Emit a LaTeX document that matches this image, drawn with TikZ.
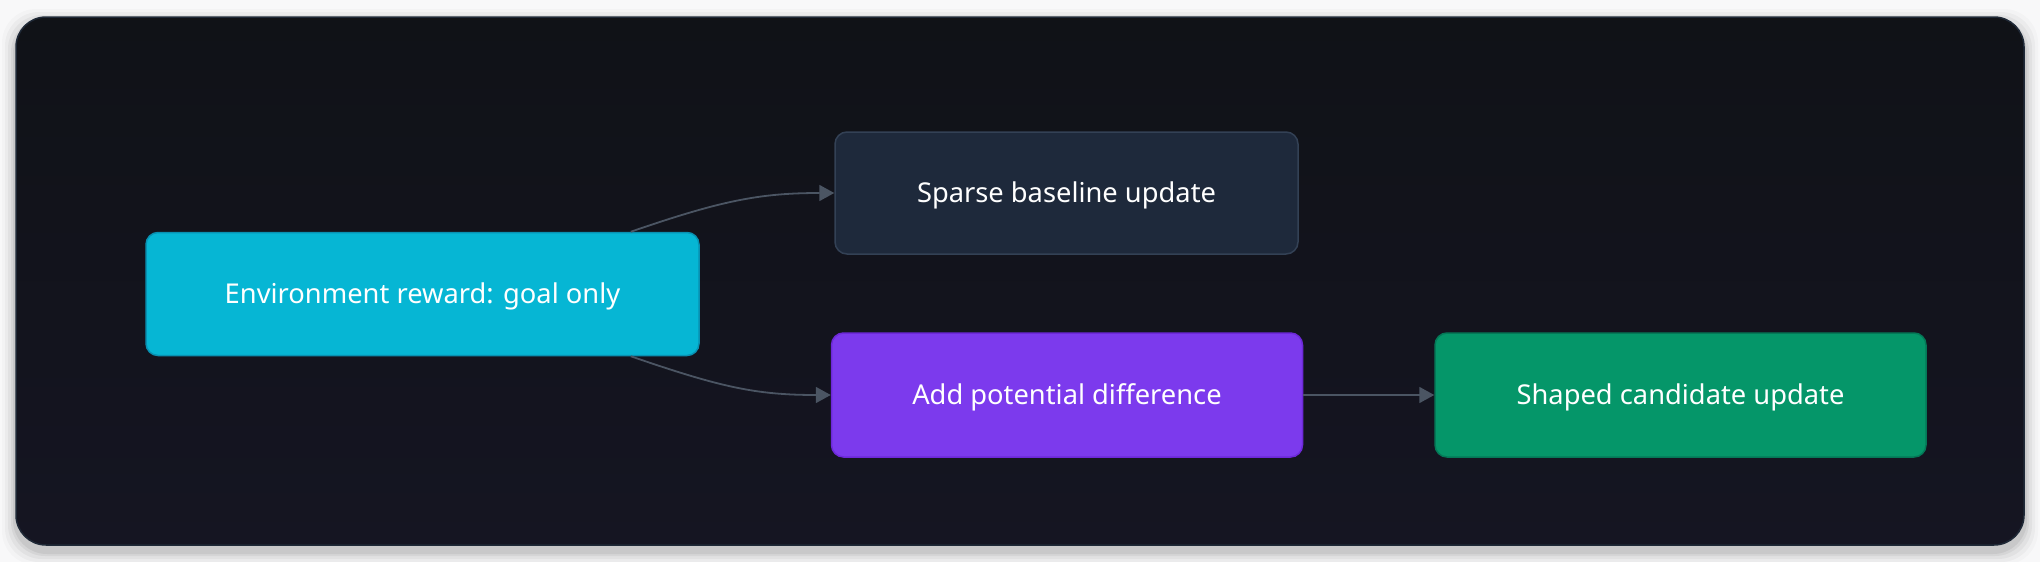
\documentclass[tikz,border=0pt]{standalone}
\usepackage{fontspec}
\setmainfont{Noto Sans}
\usetikzlibrary{arrows.meta,calc}
\definecolor{pagebg}{HTML}{F8F8F9}
\definecolor{paneltop}{HTML}{101217}
\definecolor{panelbot}{HTML}{151522}
\definecolor{panelborder}{HTML}{1F2937}
\definecolor{cyanfill}{HTML}{06B6D4}
\definecolor{cyanborder}{HTML}{0891B2}
\definecolor{slatefill}{HTML}{1E293B}
\definecolor{slateborder}{HTML}{334155}
\definecolor{purplefill}{HTML}{7C3AED}
\definecolor{purpleborder}{HTML}{6D28D9}
\definecolor{greenfill}{HTML}{059669}
\definecolor{greenborder}{HTML}{047857}
\definecolor{edgecol}{HTML}{4B5563}
\tikzset{
  box/.style={rectangle, rounded corners=12pt, line width=1.5pt, text=white,
    font=\fontsize{27.3}{32}\selectfont, inner sep=0pt,
    text height=19.6pt, text depth=0pt},
  edge/.style={draw=edgecol, line width=1.8pt,
    -{Triangle[length=15pt,width=16pt]}},
}
\begin{document}
\begin{tikzpicture}[x=1pt,y=-1pt]
\useasboundingbox (0,0) rectangle (2040,562);
\fill[pagebg] (0,0) rectangle (2040,562);
% panel shadow
\foreach \o/\a in {14/0.02,11/0.03,8/0.04,5/0.05,3/0.06}{
  \fill[black,opacity=\a,rounded corners=34pt] (16-\o,17-\o+6) rectangle (2024+\o,545+\o+6);
}
\shade[top color=paneltop,bottom color=panelbot,rounded corners=30pt]
  (16,17) rectangle (2024,545);
\draw[panelborder,line width=1.5pt,rounded corners=30pt]
  (16,17) rectangle (2024,545);

\node[box, fill=cyanfill, draw=cyanborder, minimum width=553pt, minimum height=123pt]
  (env) at (422.5,294) {Environment reward: goal only};
\node[box, fill=slatefill, draw=slateborder, minimum width=463pt, minimum height=122pt]
  (sparse) at (1066.5,193) {Sparse baseline update};
\node[box, fill=purplefill, draw=purpleborder, minimum width=471pt, minimum height=124pt]
  (add) at (1067,395) {Add potential difference};
\node[box, fill=greenfill, draw=greenborder, minimum width=491pt, minimum height=124pt]
  (shaped) at (1680.5,395) {Shaped candidate update};

\draw[edge] ([xshift=-69pt]env.north east) .. controls +(90,-31) and +(-75,0) .. (sparse.west);
\draw[edge] ([xshift=-69pt]env.south east) .. controls +(90,31) and +(-75,0) .. (add.west);
\draw[edge] (add.east) -- (shaped.west);
\end{tikzpicture}
\end{document}
